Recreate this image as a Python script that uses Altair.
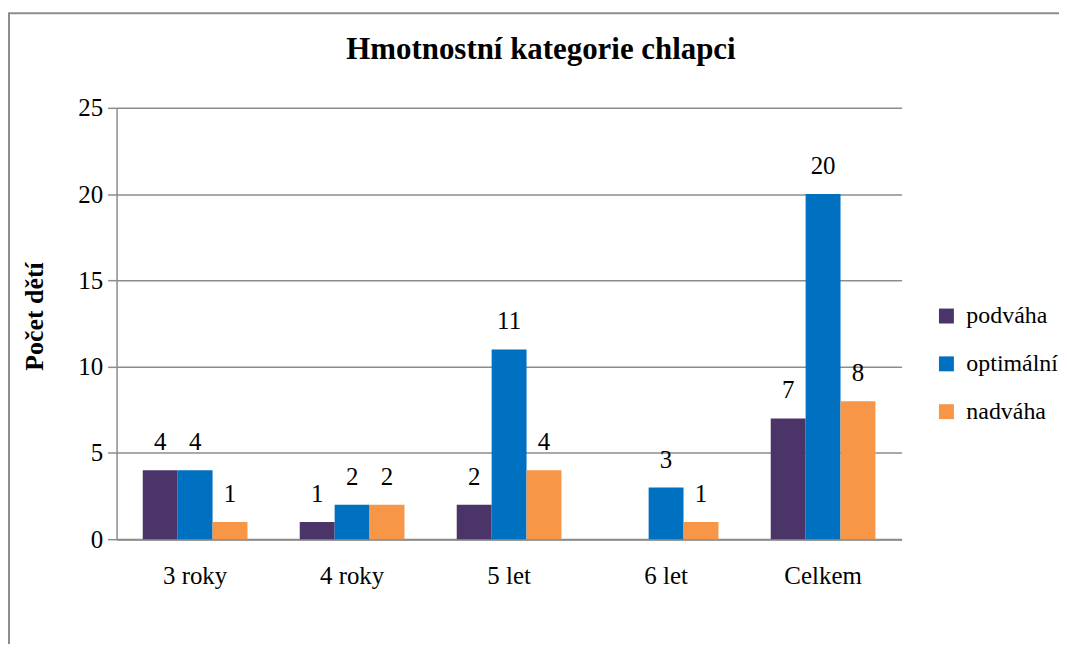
import altair as alt
import pandas as pd

categories = ["3 roky", "4 roky", "5 let", "6 let", "Celkem"]
series = ["podváha", "optimální", "nadváha"]
podvaha = [4, 1, 2, None, 7]
optimalni = [4, 2, 11, 3, 20]
nadvaha = [1, 2, 4, 1, 8]
colors = ["#4B3468", "#0070C0", "#F79646"]
title_text = "Hmotnostní kategorie chlapci"

rows = []
for s, vals in zip(series, [podvaha, optimalni, nadvaha]):
    for c, v in zip(categories, vals):
        rows.append({"kat": c, "serie": s, "hodnota": v})
df = pd.DataFrame(rows)

W, H = 788, 433
FONT = "Liberation Serif"

x = alt.X("kat:N", sort=categories, title=None,
          scale=alt.Scale(paddingInner=0.333, paddingOuter=0.1667),
          axis=alt.Axis(labelAngle=0, tickSize=0, labelPadding=24, labelFontSize=25,
                        labelFont=FONT, labelColor="black", domainColor="#8C8C8C",
                        domainWidth=2, grid=False))
xo = alt.XOffset("serie:N", sort=series)
y = alt.Y("hodnota:Q", scale=alt.Scale(domain=[0, 25]),
          axis=alt.Axis(values=[0, 5, 10, 15, 20, 25], title="Počet dětí",
                        titleFont=FONT, titleFontSize=26, titleFontWeight="bold",
                        titleColor="black", titleAngle=-90, titleX=-82, titleY=209,
                        titleAlign="center", titleBaseline="middle",
                        labelFont=FONT, labelFontSize=25, labelColor="black",
                        labelPadding=5, tickSize=9, tickColor="#8C8C8C", tickWidth=1.5,
                        domainColor="#8C8C8C", domainWidth=1.5,
                        gridColor="#8C8C8C", gridWidth=1.5))
color = alt.Color("serie:N", sort=series,
                  scale=alt.Scale(domain=series, range=colors),
                  legend=alt.Legend(title=None, orient="none", legendX=821, legendY=197,
                                    symbolType="square", symbolSize=225,
                                    symbolStrokeWidth=0, labelFont=FONT,
                                    labelFontSize=24, labelColor="black",
                                    rowPadding=24, labelOffset=8))

base = alt.Chart(df)
bars = base.mark_bar().encode(x=x, xOffset=xo, y=y, color=color)
labels = base.transform_filter("datum.hodnota != null").mark_text(
    baseline="alphabetic", dy=-20, fontSize=25, font=FONT, color="black"
).encode(x=x, xOffset=xo, y=y, text="hodnota:Q")

one = pd.DataFrame({"t": [title_text]})
title = alt.Chart(one).mark_text(font=FONT, fontSize=31, fontWeight="bold",
                                 color="black", align="center", baseline="alphabetic").encode(
    x=alt.value(543 - 117), y=alt.value(58 - 107), text="t:N")

frame_top = alt.Chart(one).mark_rule(color="#8C8C8C", strokeWidth=2).encode(
    x=alt.value(-113), x2=alt.value(W + 200), y=alt.value(-95))
frame_left = alt.Chart(one).mark_rule(color="#8C8C8C", strokeWidth=2).encode(
    x=alt.value(-108), y=alt.value(-95), y2=alt.value(H + 200))

chart = alt.layer(bars, labels, title, frame_top, frame_left).properties(
    width=W, height=H,
    autosize=alt.AutoSizeParams(type="none"),
    padding={"left": 109, "top": 99, "right": 158, "bottom": 104},
    background="white",
).configure_view(stroke=None)

chart.save("out.html", embed_options={"renderer": "svg", "actions": False})
